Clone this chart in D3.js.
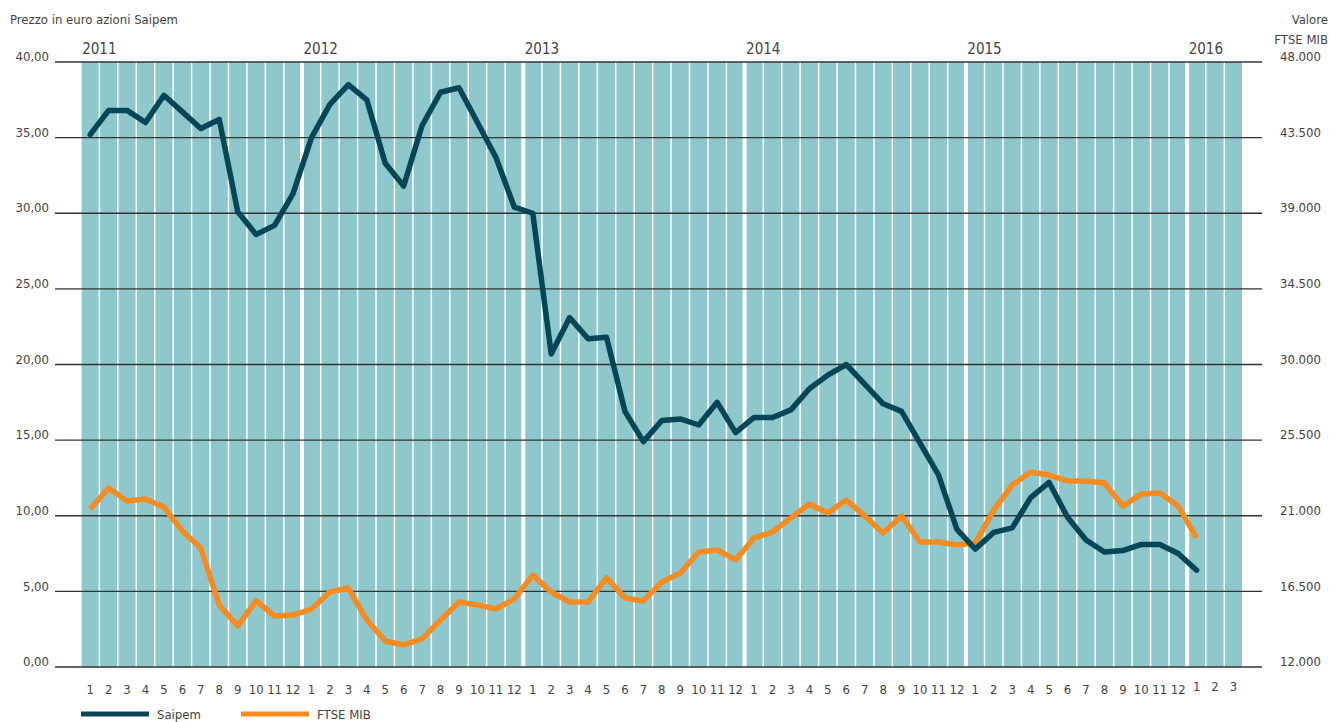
<!DOCTYPE html>
<html>
<head>
<meta charset="utf-8">
<script src="https://cdn.jsdelivr.net/npm/d3@7"></script>
<style>
  body { margin: 0; background: #fff; }
  text { font-family: "Liberation Sans Narrow", "DejaVu Sans Condensed", sans-serif; fill: #444; }
</style>
</head>
<body>
<script>
const years = ['2011', '2012', '2013', '2014', '2015', '2016']
const monthsPerYear = [12, 12, 12, 12, 12, 3]

// Saipem, euro, monthly from Jan 2011 to Jan 2016
const saipem = [
  35.2, 36.8, 36.8, 36.0, 37.8, 36.7, 35.6, 36.2, 30.1, 28.6, 29.2, 31.3,
  35.0, 37.2, 38.5, 37.5, 33.3, 31.8, 35.8, 38.0, 38.3, 36.0, 33.7, 30.4,
  30.0, 20.7, 23.1, 21.7, 21.8, 16.9, 14.9, 16.3, 16.4, 16.0, 17.5, 15.5,
  16.5, 16.5, 17.0, 18.4, 19.3, 20.0, 18.7, 17.4, 16.9, 14.8, 12.7, 9.1,
  7.8, 8.9, 9.2, 11.2, 12.2, 9.9, 8.4, 7.6, 7.7, 8.1, 8.1, 7.5,
  6.4
]

// FTSE MIB index, monthly from Jan 2011 to Jan 2016
const ftse = [
  21400, 22650, 21880, 22000, 21520, 20090, 19080, 15690, 14440, 15930, 15030, 15090,
  15450, 16460, 16700, 14800, 13550, 13310, 13670, 14800, 15870, 15690, 15450, 16050,
  17470, 16460, 15870, 15870, 17300, 16110, 15930, 17060, 17590, 18840, 18960, 18370,
  19680, 20030, 20870, 21700, 21160, 21940, 20990, 19970, 20990, 19440, 19440, 19260,
  19380, 21340, 22830, 23600, 23420, 23070, 23070, 22950, 21580, 22290, 22350, 21580,
  19680
]

const leftTicks = [0, 5, 10, 15, 20, 25, 30, 35, 40]
const rightTicks = [12000, 16500, 21000, 25500, 30000, 34500, 39000, 43500, 48000]

const width = 1329
const height = 722
const plotTop = 62
const plotBottom = 667
const gridLeft = 55
const gridRight = 1262
const barLeft = 81.7
const barRight = 1242

// month list built from years
const months = []
years.forEach((y, yi) => {
  for (let m = 1; m <= monthsPerYear[yi]; m++) months.push({ year: y, m: m, i: months.length })
})

const svg = d3.select('body')
  .append('svg')
  .attr('width', width)
  .attr('height', height)

const x = d3.scaleBand()
  .domain(months.map(d => d.i))
  .range([barLeft, barRight])
  .paddingInner(0.08)
  .paddingOuter(0)

const cx = i => x(i) + x.bandwidth() / 2

const yLeft = d3.scaleLinear().domain([0, 40]).range([plotBottom, plotTop])
const yRight = d3.scaleLinear().domain([12000, 48000]).range([plotBottom, plotTop])

// bars
svg.append('g')
  .selectAll('rect')
  .data(months)
  .enter()
  .append('rect')
  .attr('x', d => x(d.i))
  .attr('y', plotTop)
  .attr('width', x.bandwidth())
  .attr('height', plotBottom - plotTop)
  .attr('fill', '#8ec8cc')

// wider white gap at year change
svg.append('g')
  .selectAll('rect')
  .data(months.filter(d => d.m === 1 && d.i > 0))
  .enter()
  .append('rect')
  .attr('x', d => x(d.i) - 3)
  .attr('y', plotTop)
  .attr('width', 4)
  .attr('height', plotBottom - plotTop)
  .attr('fill', '#fff')

// gridlines
svg.append('g')
  .selectAll('line')
  .data(leftTicks)
  .enter()
  .append('line')
  .attr('x1', gridLeft)
  .attr('x2', gridRight)
  .attr('y1', d => yLeft(d))
  .attr('y2', d => yLeft(d))
  .attr('stroke', '#333')
  .attr('stroke-width', 1.3)

// left axis
const fmtLeft = d => d3.format('.2f')(d).replace('.', ',')
const gl = svg.append('g')
  .attr('transform', `translate(${gridLeft - 6},0)`)
  .call(d3.axisLeft(yLeft).tickValues(leftTicks).tickSize(0).tickPadding(0).tickFormat(fmtLeft))
gl.select('.domain').remove()
gl.selectAll('text').attr('font-size', 13).attr('fill', '#444').attr('dy', '-0.1em')

// right axis
const fmtRight = d => d3.format(',')(d).replace(/,/g, '.')
const gr = svg.append('g')
  .attr('transform', `translate(${gridRight + 18},0)`)
  .call(d3.axisRight(yRight).tickValues(rightTicks).tickSize(0).tickPadding(0).tickFormat(fmtRight))
gr.select('.domain').remove()
gr.selectAll('text').attr('font-size', 13).attr('fill', '#444').attr('dy', '-0.1em')

// month labels
svg.append('g')
  .selectAll('text')
  .data(months)
  .enter()
  .append('text')
  .text(d => d.m)
  .attr('x', d => cx(d.i))
  .attr('y', d => d.year === '2016' ? 691 : 694)
  .attr('text-anchor', 'middle')
  .attr('font-size', 13)

// year labels
svg.append('g')
  .selectAll('text')
  .data(months.filter(d => d.m === 1))
  .enter()
  .append('text')
  .text(d => d.year)
  .attr('x', d => x(d.i) + 0.5)
  .attr('y', 54)
  .attr('font-size', 15)
  .attr('fill', '#333')

// titles
svg.append('text').text('Prezzo in euro azioni Saipem')
  .attr('x', 10).attr('y', 24).attr('font-size', 13)
svg.append('text').text('Valore')
  .attr('x', 1328).attr('y', 24).attr('font-size', 13).attr('text-anchor', 'end')
svg.append('text').text('FTSE MIB')
  .attr('x', 1328).attr('y', 44).attr('font-size', 13).attr('text-anchor', 'end')

// lines
const lineLeft = d3.line().x((d, i) => cx(i)).y(d => yLeft(d))
const lineRight = d3.line().x((d, i) => cx(i)).y(d => yRight(d))

svg.append('path')
  .datum(ftse)
  .attr('d', lineRight)
  .attr('fill', 'none')
  .attr('stroke', '#f68b21')
  .attr('stroke-width', 5.5)
  .attr('stroke-linejoin', 'round')

svg.append('path')
  .datum(saipem)
  .attr('d', lineLeft)
  .attr('fill', 'none')
  .attr('stroke', '#034657')
  .attr('stroke-width', 5.5)
  .attr('stroke-linejoin', 'round')
  .attr('stroke-linecap', 'round')

// legend
const legend = [['Saipem', '#034657', 81], ['FTSE MIB', '#f68b21', 241]]
const lg = svg.append('g')
legend.forEach(d => {
  lg.append('line')
    .attr('x1', d[2]).attr('x2', d[2] + 68)
    .attr('y1', 714).attr('y2', 714)
    .attr('stroke', d[1]).attr('stroke-width', 5)
  lg.append('text').text(d[0])
    .attr('x', d[2] + 76).attr('y', 719).attr('font-size', 13)
})
</script>
</body>
</html>
